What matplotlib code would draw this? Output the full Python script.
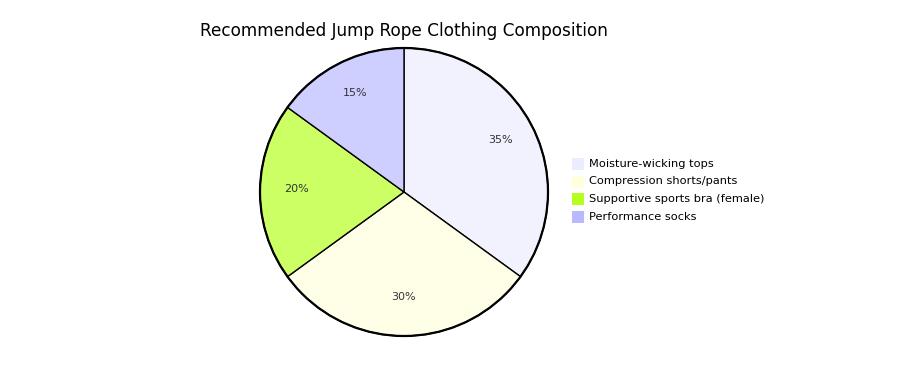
import matplotlib
matplotlib.use("Agg")
import matplotlib.pyplot as plt
from matplotlib.patches import Circle, Rectangle

# Chart data
labels = ["Moisture-wicking tops", "Compression shorts/pants",
          "Supportive sports bra (female)", "Performance socks"]
values = [35, 30, 20, 15]
slice_colors = ["#f2f2ff", "#ffffe8", "#cbff63", "#ceceff"]
legend_colors = ["#ececff", "#ffffde", "#b5ff20", "#b9b9ff"]
title = "Recommended Jump Rope Clothing Composition"

W, H = 924, 380
fig = plt.figure(figsize=(W / 100, H / 100), dpi=100)
ax = fig.add_axes([0, 0, 1, 1])

cx, cy, r = 404, H - 192, 144

wedges, texts, autotexts = ax.pie(
    values, colors=slice_colors, startangle=90, counterclock=False,
    center=(cx, cy), radius=r, autopct="%1.0f%%", pctdistance=0.75,
    wedgeprops=dict(edgecolor="black", linewidth=1.0),
    textprops=dict(fontsize=8, color="#333333"), frame=True)
# nudge percent labels up a little
for t in autotexts:
    x, y = t.get_position()
    t.set_position((x, y + 3))

ax.set_xlim(0, W)
ax.set_ylim(0, H)
ax.axis("off")
ax.add_patch(Circle((cx, cy), r, fill=False, edgecolor="black", linewidth=1.6))

ax.text(cx, H - 31, title, ha="center", va="center", fontsize=12.2,
        fontweight="medium", color="black")

# Legend
for i, (lab, col) in enumerate(zip(labels, legend_colors)):
    y = H - (164 + i * 17.5)
    ax.add_patch(Rectangle((572, y - 6), 12, 12, facecolor=col, edgecolor="none"))
    ax.text(589, y, lab, ha="left", va="center", fontsize=8.2, color="black")

fig.savefig("out.png", dpi=100)
